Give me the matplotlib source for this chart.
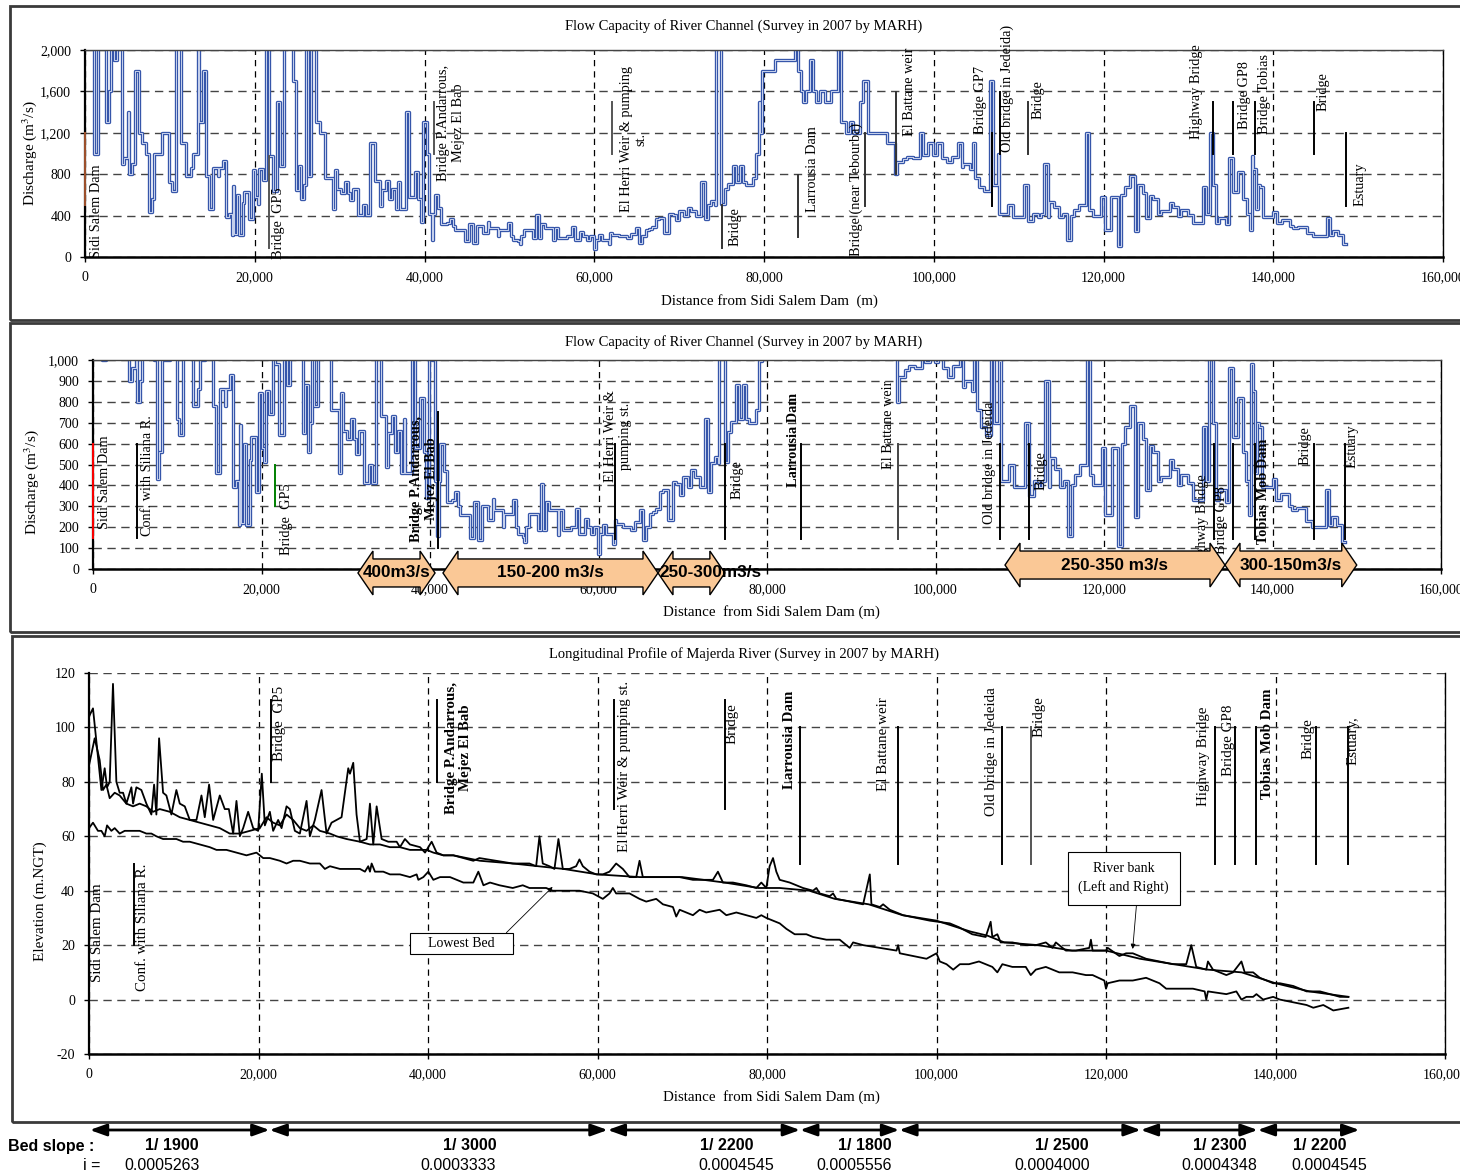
import matplotlib
matplotlib.use("Agg")
import matplotlib.pyplot as plt
from matplotlib import font_manager, transforms
from matplotlib.patches import Polygon, Rectangle
from matplotlib.ticker import FuncFormatter, MultipleLocator

plt.rcParams['font.family'] = ['Liberation Serif', 'DejaVu Serif']
plt.rcParams['mathtext.fontset'] = 'stix'

installed = set(font_manager.get_font_names())
SANS = 'Liberation Sans Narrow' if 'Liberation Sans Narrow' in installed else 'Liberation Sans'

# ---- flow capacity (step series): distance in km, discharge in m3/s ----
capacity_steps = [
    (0.9, 2500), (1.06, 1000), (1.57, 2500), (2.44, 1300), (2.83, 1600), (3.07, 2500),
    (3.43, 1900), (3.82, 2500), (4.33, 900), (4.61, 960), (5.12, 1400), (5.2, 800),
    (5.59, 900), (5.87, 1800), (6.38, 1200), (6.77, 1100), (7.24, 1000), (7.56, 430),
    (7.87, 560), (8.15, 1000), (9.13, 1200), (9.92, 720), (10.24, 640), (10.7, 2500),
    (11.3, 1100), (11.9, 780), (12.5, 860), (12.68, 1000), (13.35, 2500), (13.39, 1300),
    (13.86, 1800), (14.25, 780), (14.65, 460), (15.04, 860), (15.63, 780), (15.83, 860),
    (16.22, 930), (16.61, 390), (17.0, 420), (17.28, 210), (17.4, 690), (17.6, 220),
    (17.87, 600), (18.19, 210), (18.58, 520), (18.78, 630), (19.37, 370), (19.76, 840),
    (20.08, 580), (20.35, 510), (20.55, 850), (20.94, 740), (21.34, 2500), (21.65, 980),
    (22.13, 640), (22.64, 1500), (23.03, 880), (23.43, 2500), (24.49, 1700), (24.88, 650),
    (25.2, 880), (25.47, 560), (25.75, 700), (25.98, 2500), (26.26, 780), (26.65, 2500),
    (27.24, 1300), (27.64, 1200), (28.23, 760), (29.21, 460), (29.4, 840), (29.69, 660),
    (30.2, 620), (30.59, 720), (30.98, 620), (31.18, 550), (31.57, 660), (32.17, 410),
    (32.76, 500), (33.15, 410), (33.54, 1100), (34.13, 730), (34.72, 490), (35.04, 650),
    (35.51, 730), (35.83, 560), (36.22, 660), (36.61, 460), (36.89, 720), (37.09, 460),
    (37.87, 1400), (38.19, 580), (38.86, 820), (39.25, 560), (39.53, 340), (39.84, 1300),
    (40.24, 1000), (40.55, 420), (40.83, 160), (41.02, 420), (41.22, 600), (41.61, 470),
    (42.0, 320), (42.6, 330), (42.99, 370), (43.31, 300), (43.58, 260), (44.76, 150),
    (45.28, 320), (45.75, 140), (46.14, 300), (46.85, 233), (47.44, 337), (47.64, 281),
    (48.63, 201), (48.83, 265), (49.82, 329), (50.22, 201), (50.42, 169), (51.01, 153),
    (51.21, 129), (51.41, 201), (51.72, 265), (52.79, 185), (53.19, 409), (53.47, 185),
    (53.78, 321), (54.18, 281), (55.17, 161), (55.37, 281), (55.76, 188), (56.75, 201),
    (57.35, 289), (57.74, 169), (58.34, 241), (58.73, 201), (59.13, 169), (59.52, 201),
    (59.92, 73), (60.2, 169), (60.59, 209), (60.91, 169), (61.7, 121), (61.9, 233),
    (62.1, 217), (62.89, 201), (63.88, 185), (64.28, 225), (64.87, 281), (65.27, 137),
    (65.66, 201), (66.06, 265), (66.46, 273), (66.85, 289), (67.25, 369), (67.64, 377),
    (68.24, 233), (68.83, 417), (69.23, 409), (69.62, 353), (70.02, 441), (70.61, 393),
    (71.01, 473), (71.41, 441), (72.0, 393), (72.59, 720), (72.99, 369), (73.39, 505),
    (73.78, 537), (74.18, 505), (74.29, 2500), (74.96, 510), (75.35, 655), (75.75, 703),
    (76.34, 880), (76.73, 720), (77.13, 880), (77.52, 720), (77.91, 700), (78.7, 760),
    (79.09, 994), (79.41, 1494), (79.57, 1200), (79.8, 1800), (81.26, 1900), (83.62, 2500),
    (84.02, 1800), (84.41, 1600), (84.61, 1500), (84.92, 1600), (85.39, 1900), (85.79, 1600),
    (86.18, 1500), (86.57, 1600), (87.17, 1500), (87.95, 1600), (88.74, 2500), (89.13, 1300),
    (89.72, 1200), (90.12, 1300), (90.51, 1200), (91.3, 1500), (91.69, 1700), (92.28, 1200),
    (94.45, 1100), (95.43, 800), (95.63, 920), (96.42, 950), (96.81, 970), (97.6, 960),
    (98.39, 1200), (98.78, 990), (99.37, 1100), (99.96, 990), (100.35, 1100), (100.94, 960),
    (101.54, 920), (102.13, 970), (102.91, 1100), (103.31, 870), (103.5, 900), (104.29, 850),
    (104.57, 1100), (104.88, 760), (105.35, 680), (105.94, 640), (106.61, 1700), (106.93, 700),
    (107.52, 994), (107.72, 420), (108.7, 500), (109.29, 390), (110.67, 700), (111.06, 350),
    (111.65, 420), (112.24, 390), (112.64, 420), (113.03, 900), (113.43, 390), (113.62, 530),
    (114.21, 480), (114.8, 390), (115.2, 420), (115.67, 160), (116.18, 400), (116.57, 450),
    (117.17, 500), (117.95, 1200), (118.35, 450), (118.74, 400), (119.72, 580), (120.12, 260),
    (120.91, 580), (121.69, 110), (122.09, 600), (122.48, 680), (123.07, 780), (123.66, 250),
    (124.06, 700), (124.65, 620), (125.04, 380), (125.43, 590), (125.83, 560), (126.42, 420),
    (126.81, 440), (127.8, 520), (128.19, 480), (128.78, 400), (129.17, 450), (129.96, 410),
    (130.55, 330), (131.73, 680), (132.13, 420), (132.52, 1200), (132.91, 700), (133.31, 330),
    (133.62, 380), (134.49, 320), (134.8, 960), (135.28, 630), (135.87, 820), (136.46, 560),
    (136.85, 420), (137.24, 260), (137.44, 980), (137.64, 850), (137.95, 460), (138.15, 700),
    (138.43, 680), (138.74, 390), (140.0, 430), (140.39, 330), (140.98, 360), (141.97, 300),
    (142.36, 280), (142.95, 290), (143.94, 230), (144.72, 200), (146.3, 380), (146.69, 210),
    (147.09, 250), (147.68, 210), (148.27, 130), (148.58, 130),
]

# ---- longitudinal profile: distance in km, elevation in m.NGT ----
bank_left = [
    (0, 104), (0.47, 107), (0.87, 95), (1.46, 77), (1.85, 85), (2.13, 78), (2.44, 80),
    (2.83, 116), (3.23, 80), (3.62, 76), (4.02, 76), (4.41, 72), (5.0, 78), (5.2, 72),
    (5.59, 78), (6.18, 77), (6.77, 72), (7.36, 68), (7.68, 79), (7.95, 68), (8.27, 96),
    (8.74, 76), (9.13, 75), (9.72, 68), (10.31, 77), (10.71, 72), (11.3, 71), (11.89, 66),
    (12.68, 66), (13.27, 75), (13.66, 67), (14.17, 79), (14.65, 66), (15.43, 75), (16.02, 70),
    (16.5, 70), (17.01, 61), (17.4, 73), (17.8, 60), (18.19, 63), (18.78, 69), (19.37, 63),
    (19.96, 62), (20.39, 83), (20.75, 64), (21.34, 69), (21.73, 62), (22.32, 66), (22.72, 63),
    (23.31, 71), (23.7, 70), (24.29, 62), (24.88, 61), (25.67, 73), (26.06, 60), (26.65, 66),
    (27.44, 77), (28.03, 61), (28.62, 65), (29.21, 66), (29.8, 67), (30.59, 85), (30.79, 83),
    (31.18, 87), (31.57, 68), (31.97, 58), (32.76, 59), (33.15, 72), (33.54, 57), (33.94, 71),
    (34.53, 59), (35.31, 58), (36.3, 58), (36.69, 56), (37.28, 59), (37.87, 57), (39.06, 56),
    (39.65, 54), (40.43, 58), (41.02, 54), (41.81, 53), (42.99, 53), (44.17, 52), (45.35, 51),
    (46.06, 52), (48.03, 51), (50.0, 50), (51.97, 50), (52.76, 49), (53.15, 60), (53.54, 50),
    (54.33, 49), (54.92, 48), (55.39, 59), (55.91, 48), (56.69, 48), (57.48, 49), (57.87, 51.5),
    (58.27, 49), (59.06, 47), (59.84, 46), (60.63, 46), (61.42, 47), (62.2, 50), (62.99, 48),
    (63.78, 45), (64.57, 45), (64.96, 51), (65.35, 45), (66.54, 45), (68.11, 45), (69.69, 45),
    (71.26, 44), (72.83, 44), (73.62, 44), (74.21, 47), (74.8, 43), (75.98, 43), (77.56, 42),
    (78.74, 41), (79.33, 43), (79.92, 41), (80.31, 49), (80.71, 52), (81.1, 47), (81.5, 44),
    (82.68, 43), (84.25, 41), (85.43, 40), (85.83, 41), (86.22, 39), (87.4, 38), (87.8, 39),
    (88.19, 37), (89.76, 36), (91.34, 35), (92.13, 46), (92.32, 35), (93.31, 34), (93.7, 35),
    (94.49, 33), (96.06, 31), (97.64, 30), (99.21, 29), (101.57, 28), (102.64, 26.6),
    (104.22, 24), (105.8, 23), (106.39, 28.6), (106.59, 23), (107.18, 24), (107.57, 21),
    (108.95, 21), (110.53, 20), (111.72, 20), (112.9, 21), (113.69, 19), (114.08, 21),
    (115.27, 18), (116.45, 18), (118.03, 19), (118.22, 22), (118.42, 18), (120.0, 18),
    (120.2, 19), (121.58, 16), (122.37, 17), (123.16, 17), (124.73, 15), (126.31, 14),
    (127.89, 13), (129.47, 13), (130.06, 20), (130.65, 12), (131.83, 11), (132.03, 14),
    (132.62, 11), (134.2, 9), (134.99, 10), (135.98, 14), (136.37, 10), (137.36, 10),
    (137.75, 9), (138.15, 8), (138.93, 7), (139.72, 6), (140.51, 6), (142.09, 5), (143.67, 3),
    (145.25, 3), (146.43, 2), (147.61, 1), (148.6, 1),
]

bank_right = [
    (0, 86), (0.67, 96), (1.26, 88), (1.65, 77), (2.05, 79), (2.44, 74), (3.03, 76), (3.62, 75),
    (4.41, 72), (5.2, 71), (5.98, 72), (6.77, 71), (7.56, 69), (8.35, 70), (9.53, 69),
    (10.71, 67), (11.89, 66), (13.07, 65), (14.25, 64), (15.43, 63), (16.61, 61), (17.8, 61),
    (18.98, 62), (20.16, 63), (20.94, 67), (21.73, 65), (22.52, 64), (23.31, 68), (24.09, 66),
    (24.88, 63), (25.67, 62), (26.46, 64), (27.24, 62), (28.43, 61), (29.21, 60), (30.39, 59),
    (31.97, 58), (33.15, 57), (34.33, 57), (35.51, 56), (36.69, 56), (37.87, 55), (39.06, 55),
    (39.84, 55), (40.63, 54), (41.81, 53), (42.99, 53), (44.57, 52), (46.14, 51), (50, 50),
    (56, 48), (60, 46), (65, 45), (70, 45), (75, 43), (79, 41), (80.5, 41), (81.5, 41),
    (85, 40), (88, 37), (92, 35), (96, 31), (100, 29), (104, 25), (106, 23.5), (108, 21),
    (112, 20), (116, 18), (120, 18), (124, 15), (128, 13), (132, 11), (136, 10), (138, 8),
    (140, 6), (144, 3), (148.6, 1),
]

lowest_bed = [
    (0, 63), (0.47, 65), (1.06, 62), (1.46, 62), (1.85, 60), (2.13, 64), (2.64, 62), (3.03, 63),
    (3.62, 61), (4.21, 62), (5.2, 62), (5.98, 62), (6.77, 61), (7.36, 61), (7.95, 60),
    (8.74, 59), (9.53, 59), (10.31, 59), (11.1, 58), (11.89, 58), (13.07, 57), (14.25, 56),
    (15.04, 55), (16.22, 55), (17.4, 54), (18.58, 53), (19.76, 54), (20.55, 52), (21.34, 52),
    (22.52, 51), (23.31, 50), (24.09, 51), (24.88, 51), (26.06, 50), (27.24, 50), (27.83, 48),
    (28.43, 49), (29.61, 48), (30.79, 48), (31.97, 48), (32.56, 47), (32.95, 49), (33.15, 47),
    (33.35, 50), (33.74, 47), (34.72, 47), (35.51, 46), (36.69, 46), (37.87, 45), (38.66, 46),
    (38.86, 44), (39.45, 45), (40.04, 47), (40.63, 44), (41.42, 45), (42.6, 45), (44.17, 43),
    (45.35, 43), (45.94, 47), (46.54, 42), (47.32, 43), (48.43, 42), (50.0, 41), (51.18, 42),
    (51.97, 41), (53.94, 41), (54.72, 40), (55.91, 40), (57.87, 40), (59.45, 39), (60.63, 37),
    (61.42, 39), (61.81, 41), (62.2, 39), (63.78, 39), (64.96, 37), (65.75, 36), (66.93, 37),
    (67.72, 35), (68.9, 34), (69.29, 30.5), (69.69, 33), (71.26, 31), (72.05, 33), (72.83, 32),
    (74.41, 33), (75.2, 31), (76.38, 32), (77.56, 31), (78.74, 30), (79.33, 31), (79.92, 30),
    (80.71, 29), (81.5, 28), (82.28, 26), (83.27, 24), (83.86, 24), (84.65, 24), (85.43, 23),
    (87.01, 22), (88.58, 22), (89.76, 19), (90.16, 21), (91.34, 20), (93.31, 19), (95.28, 18),
    (95.47, 20), (95.67, 17), (97.24, 16), (98.82, 15), (100.0, 17), (100.39, 14), (101.18, 13),
    (101.97, 11), (102.76, 13), (103.83, 13), (105.01, 14), (106.59, 12), (107.18, 10),
    (107.77, 13), (108.95, 12), (110.53, 12), (111.12, 9), (111.72, 11), (112.9, 12),
    (114.48, 10), (116.06, 10), (117.63, 9), (118.42, 9), (119.8, 7), (120.0, 4), (120.2, 6),
    (121.58, 7), (123.16, 7), (124.73, 8), (126.31, 6), (127.1, 4), (128.68, 4), (130.26, 4),
    (131.64, 3), (131.83, 0), (132.03, 3), (134.2, 2), (135.38, 3), (135.98, 0), (136.57, 1),
    (137.36, 1), (137.75, 2), (138.54, 0), (139.72, 1), (140.51, 0), (142.09, -1), (143.67, -2),
    (144.46, -3), (145.64, -2), (146.82, -4), (148.6, -3),
]

# ---- capacity bands under the middle chart (km from, km to, label) ----
flow_bands = [
    (31.45, 40.6, '400m3/s'),
    (41.54, 67.06, '150-200 m3/s'),
    (67.06, 75.0, '250-300m3/s'),
    (108.25, 134.36, '250-350 m3/s'),
    (134.36, 150.0, '300-150m3/s'),
]

# ---- bed slope reaches (km bounds) and slope denominators ----
slope_bounds = [0.1, 21.3, 61.2, 83.9, 95.6, 124.1, 137.9, 149.9]
slope_denoms = [1900, 3000, 2200, 1800, 2500, 2300, 2200]

# structures: line km, line y0, y1, text km, text bottom y, label, bold, line colour
top_marks = [
    (0.0, 500, 1200, 1.41, -10, 'Sidi Salem Dam', False, '#A0522D'),
    (21.7, 90, 980, 22.8, -20, 'Bridge  GP5', False, '#555555'),
    (41.1, 1000, 1500, 43.1, 735, 'Bridge P.Andarrous,\nMejez El Bab', False, '#555555'),
    (62.05, 994, 1500, 64.6, 430, 'El Herri Weir & pumping\nst.', False, '#555555'),
    (75.05, 90, 500, 76.6, 106, 'Bridge', False, '#333333'),
    (84.0, 194, 794, 85.7, 430, 'Larrousia Dam', False, '#333333'),
    (91.9, 494, 1200, 90.9, 10, 'Bridge (near Tebourba)', False, '#333333'),
    (95.55, 800, 1597, 97.1, 1170, 'El Battane weir', False, '#333333'),
    (106.9, 494, 1200, 105.5, 1187, 'Bridge GP7', False, 'k'),
    (107.8, 994, 1597, 108.7, 1010, 'Old bridge in Jedeida)', False, 'k'),
    (111.1, 994, 1494, 112.3, 1332, 'Bridge', False, '#333333'),
    (132.9, 994, 1494, 130.9, 1140, 'Highway Bridge', False, 'k'),
    (135.3, 994, 1494, 136.6, 1235, 'Bridge GP8', False, 'k'),
    (137.8, 994, 1494, 139.0, 1187, 'Bridge Tobias', False, 'k'),
    (144.8, 994, 1494, 145.9, 1413, 'Bridge', False, 'k'),
    (148.6, 494, 1200, 150.2, 494, 'Estuary', False, 'k'),
]

mid_marks = [
    (0.0, 150, 600, 1.42, 193, 'Sidi Salem Dam', False, 'red'),
    (5.26, 150, 600, 6.5, 160, 'Conf. with Siliana R.', False, 'k'),
    (21.6, 300, 500, 23.0, 65, 'Bridge  GP5', False, 'green'),
    (41.0, 100, 750, 39.3, 130, 'Bridge P.Andarrous,\nMejez El Bab', True, 'k'),
    (62.0, 145, 600, 62.3, 417, 'El Herri Weir &\npumping st.', False, 'k'),
    (75.0, 145, 600, 76.4, 337, 'Bridge', False, 'k'),
    (84.0, 145, 600, 83.1, 393, 'Larrousia Dam', True, 'k'),
    (95.6, 145, 600, 94.4, 480, 'El Battane weir', False, '#444444'),
    (107.7, 145, 600, 106.4, 217, 'Old bridge in Jedeida', False, 'k'),
    (111.1, 145, 600, 112.5, 377, 'Bridge', False, 'k'),
    (133.0, 145, 600, 131.7, 0, 'Highway Bridge', False, 'k'),
    (135.3, 145, 600, 134.0, 73, 'Bridge GP8', False, 'k'),
    (137.9, 145, 600, 138.9, 121, 'Tobias Mob Dam', True, 'k'),
    (144.9, 145, 600, 143.9, 497, 'Bridge', False, 'k'),
    (148.6, 145, 600, 149.4, 481, 'Estuary', False, 'k'),
]

low_marks = [
    (0.0, 20, 50.6, 1.06, 6.4, 'Sidi Salem Dam', False, 'k'),
    (5.27, 20, 50, 6.34, 3.3, 'Conf. with Siliana R.', False, 'k'),
    (21.5, 80, 110, 22.5, 87.8, 'Bridge  GP5', False, 'k'),
    (41.07, 80, 110, 43.6, 68.2, 'Bridge P.Andarrous,\nMejez El Bab', True, 'k'),
    (61.9, 70, 110, 63.2, 54.1, 'El Herri Weir & pumping st.', False, 'k'),
    (75.0, 70, 110, 75.9, 93.9, 'Bridge', False, 'k'),
    (83.9, 50, 100, 82.7, 77.4, 'Larrousia Dam', True, 'k'),
    (95.4, 50, 100, 93.8, 76.8, 'El Battane weir', False, 'k'),
    (107.7, 50, 100, 106.5, 67.6, 'Old bridge in Jedeida', False, 'k'),
    (111.1, 50, 100, 112.1, 96.4, 'Bridge', False, '#555555'),
    (132.9, 50, 100, 131.5, 71.3, 'Highway Bridge', False, 'k'),
    (135.2, 50, 100, 134.4, 82.3, 'Bridge GP8', False, 'k'),
    (137.7, 50, 100, 139.1, 73.7, 'Tobias Mob Dam', True, 'k'),
    (144.8, 50, 100, 143.8, 88.4, 'Bridge', False, 'k'),
    (148.6, 50, 100, 149.2, 86.2, 'Estuary,', False, 'k'),
]

W, H = 1460, 1176
fig = plt.figure(figsize=(W / 100, H / 100), dpi=100)


def box_px(l, t, r, b):
    return [l / W, 1 - b / H, (r - l) / W, (b - t) / H]


# panel frames
for l, t, b in [(10, 6, 320), (10, 323, 632), (12, 636, 1122)]:
    fig.patches.append(Rectangle((l / W, 1 - b / H), (W + 20 - l) / W, (b - t) / H,
                                 transform=fig.transFigure, fill=False,
                                 ec='#3a3a3a', lw=2))

ax1 = fig.add_axes(box_px(85, 50, 1443, 257))
ax2 = fig.add_axes(box_px(93, 360, 1441, 569))
ax3 = fig.add_axes(box_px(89, 673, 1445, 1054))

comma = FuncFormatter(lambda v, p: f'{v:,.0f}')
plain = FuncFormatter(lambda v, p: f'{v:.0f}')


def style(ax, ylim, ystep, yfmt):
    ax.set_xlim(0, 160000)
    ax.set_ylim(*ylim)
    ax.xaxis.set_major_locator(MultipleLocator(20000))
    ax.yaxis.set_major_locator(MultipleLocator(ystep))
    ax.xaxis.set_major_formatter(comma)
    ax.yaxis.set_major_formatter(yfmt)
    ax.tick_params(direction='out', length=3.5, width=1, labelsize=10, pad=6.5)
    ax.grid(True, axis='y', color='#444444', lw=1.0, ls=(0, (6, 4)))
    ax.grid(True, axis='x', color='k', lw=0.9, ls=(0, (5, 4)))
    ax.set_axisbelow(True)
    ax.spines['left'].set_linewidth(1.6)
    ax.spines['bottom'].set_linewidth(1.8)
    ax.spines['right'].set_linewidth(1.0)
    ax.spines['top'].set_linewidth(1.0)
    ax.spines['top'].set_color('#444444')


def texts(ax, title, title_xy, ylabel, ylab_xy, xlabel, xlab_xy):
    ax.text(*title_xy, title, transform=ax.transAxes, ha='center', va='center', fontsize=10.5)
    ax.text(*ylab_xy, ylabel, transform=ax.transAxes, ha='center', va='center',
            rotation=90, fontsize=11)
    ax.text(*xlab_xy, xlabel, transform=ax.transAxes, ha='center', va='center', fontsize=10.8)


def marks(ax, table, fs):
    for xk, y0, y1, tk, ty, label, bold, color in table:
        ax.plot([xk * 1000] * 2, [y0, y1], color=color, lw=1.4, zorder=3, clip_on=False)
        ax.text(tk * 1000, ty, label, rotation=90, ha='center', va='bottom', fontsize=fs,
                fontweight='bold' if bold else 'normal', multialignment='center',
                linespacing=1.15, zorder=3)


def capacity_line(ax):
    # blue outline with a pale core, as in the scanned original
    ax.plot(q_x, q_y, drawstyle='steps-post', color='#3656AA', lw=2.4, zorder=2)
    ax.plot(q_x, q_y, drawstyle='steps-post', color='#C9D3EE', lw=0.7, zorder=2.1)


q_x = [k * 1000 for k, q in capacity_steps]
q_y = [q for k, q in capacity_steps]

# ---- panel 1 ----
style(ax1, (0, 2000), 400, comma)
capacity_line(ax1)
marks(ax1, top_marks, 10.3)
texts(ax1, 'Flow Capacity of River Channel (Survey in 2007 by MARH)', (0.485, 1.116),
      'Discharge (m$^3$/s)', (-0.041, 0.5), 'Distance from Sidi Salem Dam  (m)', (0.504, -0.213))

# ---- panel 2 ----
style(ax2, (0, 1000), 100, comma)
capacity_line(ax2)
marks(ax2, mid_marks, 10.3)
texts(ax2, 'Flow Capacity of River Channel (Survey in 2007 by MARH)', (0.483, 1.086),
      'Discharge (m$^3$/s)', (-0.0455, 0.416), 'Distance  from Sidi Salem Dam (m)', (0.503, -0.206))

band_tr = transforms.blended_transform_factory(ax2.transData, ax2.transAxes)
band_y = [-0.019, -0.019, -0.019, 0.019, 0.019]
for (k0, k1, label), yc in zip(flow_bands, band_y):
    x0, x1 = k0 * 1000, k1 * 1000
    hl, body, head = 1780, 0.067, 0.105
    pts = [(x0, yc), (x0 + hl, yc + head), (x0 + hl, yc + body), (x1 - hl, yc + body),
           (x1 - hl, yc + head), (x1, yc), (x1 - hl, yc - head), (x1 - hl, yc - body),
           (x0 + hl, yc - body), (x0 + hl, yc - head)]
    ax2.add_patch(Polygon(pts, closed=True, transform=band_tr, fc='#FAC896', ec='k',
                          lw=1.0, clip_on=False, zorder=6))
    if label.startswith('250-300'):
        ax2.text(x0 + 200, yc, label, transform=band_tr, ha='left', va='center',
                 fontsize=12.3, fontweight='bold', family='Liberation Sans', zorder=7)
    else:
        ax2.text((x0 + x1) / 2, yc, label, transform=band_tr, ha='center', va='center',
                 fontsize=12.3, fontweight='bold', family='Liberation Sans', zorder=7)

# ---- panel 3 ----
style(ax3, (-20, 120), 20, plain)
ax3.spines['top'].set_visible(False)
for series in (bank_left, bank_right, lowest_bed):
    ax3.plot([k * 1000 for k, z in series], [z for k, z in series], color='k', lw=1.3, zorder=2)
marks(ax3, low_marks, 10.8)
texts(ax3, 'Longitudinal Profile of Majerda River (Survey in 2007 by MARH)', (0.483, 1.05),
      'Elevation (m.NGT)', (-0.036, 0.40), 'Distance  from Sidi Salem Dam (m)', (0.503, -0.113))

ax3.annotate('    Lowest Bed    ', xy=(54700, 41.4), xytext=(43900, 20.5), ha='center', va='center',
             fontsize=10, zorder=5,
             bbox=dict(boxstyle='square,pad=0.3', fc='white', ec='k', lw=0.8),
             arrowprops=dict(arrowstyle='-|>', color='k', lw=0.6, mutation_scale=7,
                             shrinkA=0, shrinkB=0, relpos=(0.93, 1.0)))
ax3.annotate('River bank\n(Left and Right)', xy=(123150, 18.6), xytext=(122100, 44.7),
             ha='center', va='center', fontsize=10, zorder=5, linespacing=1.5,
             bbox=dict(boxstyle='square,pad=0.75', fc='white', ec='k', lw=0.8),
             arrowprops=dict(arrowstyle='-|>', color='k', lw=0.6, mutation_scale=7,
                             shrinkA=0, shrinkB=0, relpos=(0.65, 0.0)))

# ---- bed slope row ----
row_tr = transforms.blended_transform_factory(ax3.transData, fig.transFigure)
y_arrow = 1 - 1130 / H
y_label = 1 - 1146 / H
y_value = 1 - 1165 / H
slope_label_km = [9.76, 44.9, 75.2, 91.6, 114.8, 133.4, 145.2]
slope_value_km = [8.6, 43.5, 76.4, 90.3, 113.6, 133.4, 146.4]
for i, d in enumerate(slope_denoms):
    x0, x1 = slope_bounds[i] * 1000, slope_bounds[i + 1] * 1000
    ax3.annotate('', xy=(x1, y_arrow), xytext=(x0, y_arrow), xycoords=row_tr, textcoords=row_tr,
                 annotation_clip=False,
                 arrowprops=dict(arrowstyle='<|-|>,head_length=0.5,head_width=0.18', color='k',
                                 lw=2, mutation_scale=20, shrinkA=0, shrinkB=0))
    ax3.text(slope_label_km[i] * 1000, y_label, f'1/ {d}', transform=row_tr, ha='center',
             va='center', fontsize=11.5, fontweight='bold', family=SANS, clip_on=False)
    ax3.text(slope_value_km[i] * 1000, y_value, f'{1 / d:.7f}', transform=row_tr, ha='center',
             va='center', fontsize=11.5, family=SANS, clip_on=False)

fig.text(8 / W, y_label, 'Bed slope :', ha='left', va='center', fontsize=11.5,
         fontweight='bold', family=SANS)
fig.text(100 / W, y_value, 'i =', ha='right', va='center', fontsize=11.5, family=SANS)

fig.savefig('out.png', dpi=100)
